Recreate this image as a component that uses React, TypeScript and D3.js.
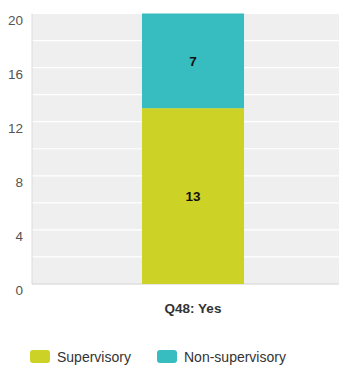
import React from "react";
import * as d3 from "d3";

const categories = ["Q48: Yes"];
const seriesNames = ["Supervisory", "Non-supervisory"];
const supervisory = [13];
const nonSupervisory = [7];
const yTicks = [0, 4, 8, 12, 16, 20];
const gridValues = [0, 2, 4, 6, 8, 10, 12, 14, 16, 18, 20];
const colors = ["#CCD226", "#37BCBF"];

export default function App() {
  const W = 339, H = 366;
  const left = 32, right = 354, top = 13.5, bottom = 284;
  const x = d3.scaleBand().domain(categories).range([left, right]).paddingInner(0).paddingOuter(1.078);
  const y = d3.scaleLinear().domain([0, 20]).range([bottom, top]);
  const stack = d3.stack<any>().keys(seriesNames)(
    categories.map((c, i) => ({ cat: c, Supervisory: supervisory[i], "Non-supervisory": nonSupervisory[i] }))
  );
  const font = "Liberation Sans, Arial, sans-serif";
  return (
    <svg width={W} height={H} style={{ position: "absolute", left: 0, top: 0 }} fontFamily={font}>
      <rect x={left} y={top} width={W - left} height={bottom - top} fill="#efefef" />
      {gridValues.map((v) => (
        <line key={v} x1={left} x2={W} y1={y(v)} y2={y(v)} stroke="#ffffff" strokeWidth={1.2} />
      ))}
      <line x1={left} x2={left} y1={top} y2={bottom} stroke="#dcdcdc" strokeWidth={1} />
      <line x1={left} x2={W} y1={bottom} y2={bottom} stroke="#cfcfcf" strokeWidth={1} />
      {yTicks.map((v) => (
        <text key={v} x={23} y={y(v) + 11} textAnchor="end" fontSize={13.5} fill="#555">
          {v}
        </text>
      ))}
      {stack.map((s, si) =>
        s.map((d, i) => (
          <g key={si + "-" + i}>
            <rect
              x={x(categories[i])}
              width={x.bandwidth()}
              y={y(d[1])}
              height={y(d[0]) - y(d[1])}
              fill={colors[si]}
            />
            <text
              x={(x(categories[i]) as number) + x.bandwidth() / 2}
              y={(y(d[0]) + y(d[1])) / 2 + 5}
              textAnchor="middle"
              fontSize={13.5}
              fontWeight="bold"
              fill="#111"
            >
              {d[1] - d[0]}
            </text>
          </g>
        ))
      )}
      {categories.map((c) => (
        <text key={c} x={(x(c) as number) + x.bandwidth() / 2} y={313} textAnchor="middle" fontSize={13.5} fontWeight="bold" fill="#333">
          {c}
        </text>
      ))}
      {seriesNames.map((n, i) => {
        const lx = [30, 157][i];
        return (
          <g key={n}>
            <rect x={lx} y={350} width={20} height={13} rx={3} fill={colors[i]} />
            <text x={lx + 27} y={362} fontSize={14} fill="#333">
              {n}
            </text>
          </g>
        );
      })}
    </svg>
  );
}
